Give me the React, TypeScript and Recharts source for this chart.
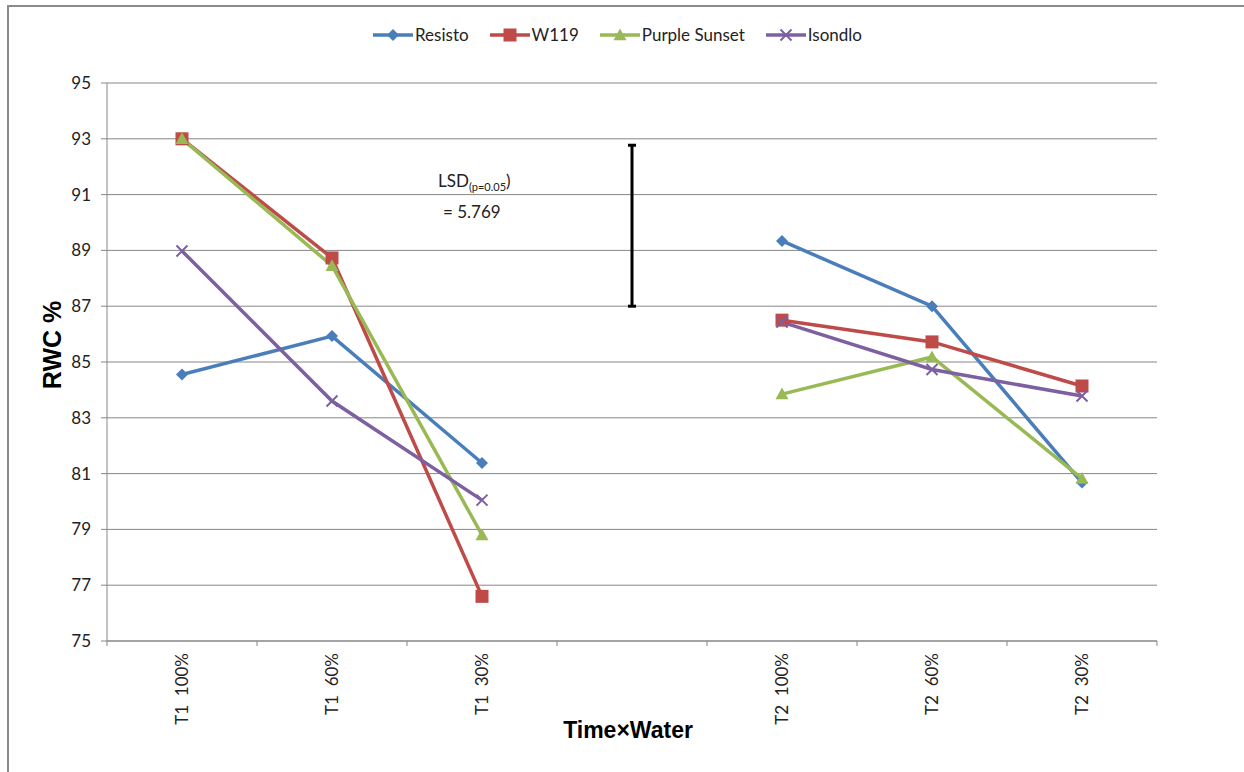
import React from "react";
import { LineChart, Line, XAxis, YAxis, CartesianGrid, ErrorBar } from "recharts";

const categories = ["T1  100%", "T1  60%", "T1  30%", "", "T2  100%", "T2  60%", "T2  30%"];

const resisto = [84.55, 85.93, 81.38, null, 89.34, 87.0, 80.68];
const w119 = [93.0, 88.73, 76.6, null, 86.5, 85.72, 84.14];
const purpleSunset = [93.0, 88.45, 78.8, null, 83.85, 85.18, 80.82];
const isondlo = [88.98, 83.6, 80.05, null, 86.43, 84.73, 83.78];

const lsdBase = 87;
const lsdValue = 5.769;

const yTicks = [75, 77, 79, 81, 83, 85, 87, 89, 91, 93, 95];

const series = [
  { key: "resisto", name: "Resisto", color: "#4A7EBB", marker: "diamond" },
  { key: "w119", name: "W119", color: "#BE4B48", marker: "square" },
  { key: "purpleSunset", name: "Purple Sunset", color: "#98B954", marker: "triangle" },
  { key: "isondlo", name: "Isondlo", color: "#7D60A0", marker: "cross" },
];

const data = categories.map((cat, i) => ({
  cat,
  resisto: resisto[i],
  w119: w119[i],
  purpleSunset: purpleSunset[i],
  isondlo: isondlo[i],
  lsdMid: cat === "" ? lsdBase + lsdValue / 2 : null,
  lsdErr: cat === "" ? lsdValue / 2 : null,
}));

const WIDTH = 1244;
const HEIGHT = 772;
const MARGIN = { top: 83, right: 87, bottom: 31, left: 47 };
const Y_AXIS_W = 60;
const X_AXIS_H = 100;
const PLOT_W = WIDTH - MARGIN.left - MARGIN.right - Y_AXIS_W;
const AXIS_COLOR = "#878787";
const FONT = "Lato, 'Noto Sans', sans-serif";
const TITLE_FONT = "'Liberation Sans', Arial, sans-serif";

function markerShape(marker: string, cx: number, cy: number, color: string) {
  if (marker === "diamond") {
    const r = 6;
    return <path d={`M${cx},${cy - r}L${cx + r},${cy}L${cx},${cy + r}L${cx - r},${cy}Z`} fill={color} />;
  }
  if (marker === "square") {
    const r = 6.5;
    return <rect x={cx - r} y={cy - r} width={r * 2} height={r * 2} fill={color} />;
  }
  if (marker === "triangle") {
    const r = 6.5;
    return <path d={`M${cx},${cy - r}L${cx + r},${cy + r * 0.8}L${cx - r},${cy + r * 0.8}Z`} fill={color} />;
  }
  const r = 5.5;
  return (
    <path
      d={`M${cx - r},${cy - r}L${cx + r},${cy + r}M${cx - r},${cy + r}L${cx + r},${cy - r}`}
      stroke={color}
      strokeWidth={2}
    />
  );
}

function makeDot(marker: string, color: string) {
  return (props: any) => {
    const { cx, cy, index, value } = props;
    if (cx == null || cy == null || value == null) return <g key={`d-${index}`} />;
    return <g key={`d-${index}`}>{markerShape(marker, cx, cy, color)}</g>;
  };
}

function XTick({ x, y, payload, index }: any) {
  const axisY = y - 12;
  const half = PLOT_W / categories.length / 2;
  return (
    <g>
      <line x1={x - half} y1={axisY} x2={x - half} y2={axisY + 5} stroke={AXIS_COLOR} />
      {index === categories.length - 1 && (
        <line x1={x + half} y1={axisY} x2={x + half} y2={axisY + 5} stroke={AXIS_COLOR} />
      )}
      {payload.value ? (
        <text
          x={x}
          y={y}
          dy="0.35em"
          transform={`rotate(-90 ${x} ${y})`}
          textAnchor="end"
          fontSize={17}
          fontFamily={FONT}
          fill="#222"
          style={{ whiteSpace: "pre" }}
        >
          {payload.value}
        </text>
      ) : null}
    </g>
  );
}

function Legend() {
  return (
    <div
      style={{
        position: "absolute",
        top: 24,
        left: 373,
        display: "flex",
        alignItems: "center",
        fontFamily: FONT,
        fontSize: 17,
        color: "#222",
      }}
    >
      {series.map((s) => (
        <div key={s.key} style={{ display: "flex", alignItems: "center", marginRight: 21 }}>
          <svg width={40} height={20}>
            <line x1={0} y1={10} x2={40} y2={10} stroke={s.color} strokeWidth={3.5} />
            {markerShape(s.marker, 20, 10, s.color)}
          </svg>
          <span style={{ marginLeft: 2 }}>{s.name}</span>
        </div>
      ))}
    </div>
  );
}

export default function App() {
  return (
    <div style={{ position: "absolute", left: 0, top: 0, width: WIDTH, height: HEIGHT, background: "#fff" }}>
      <div
        style={{
          position: "absolute",
          left: 7,
          top: 5,
          width: WIDTH - 7,
          height: HEIGHT - 5,
          borderTop: "2px solid #8a8a8a",
          borderLeft: "2px solid #8a8a8a",
          boxSizing: "border-box",
        }}
      />
      <LineChart width={WIDTH} height={HEIGHT} data={data} margin={MARGIN}>
        <CartesianGrid vertical={false} stroke={AXIS_COLOR} />
        <XAxis
          dataKey="cat"
          scale="band"
          height={X_AXIS_H}
          interval={0}
          tickLine={false}
          tickSize={6}
          tickMargin={6}
          tick={<XTick />}
          stroke={AXIS_COLOR}
          label={{
            content: ({ viewBox }: any) => (
              <text
                x={viewBox.x + viewBox.width / 2 - 4}
                y={viewBox.y + 97}
                textAnchor="middle"
                fontSize={23}
                fontWeight="bold"
                fontFamily={TITLE_FONT}
                fill="#000"
              >
                Time×Water
              </text>
            ),
          }}
        />
        <YAxis
          width={Y_AXIS_W}
          domain={[75, 95]}
          ticks={yTicks}
          interval={0}
          stroke={AXIS_COLOR}
          tickSize={6}
          tickMargin={10}
          tick={{ fontSize: 17, fontFamily: FONT, fill: "#222" }}
          label={{
            content: ({ viewBox }: any) => {
              const cx = viewBox.x + 5;
              const cy = viewBox.y + viewBox.height / 2 - 17;
              return (
                <text
                  x={cx}
                  y={cy}
                  dy="0.35em"
                  transform={`rotate(-90 ${cx} ${cy})`}
                  textAnchor="middle"
                  fontSize={25}
                  fontWeight="bold"
                  fontFamily={TITLE_FONT}
                  fill="#000"
                >
                  RWC %
                </text>
              );
            },
          }}
        />
        {series.map((s) => (
          <Line
            key={s.key}
            dataKey={s.key}
            name={s.name}
            stroke={s.color}
            strokeWidth={3.5}
            dot={makeDot(s.marker, s.color)}
            activeDot={false}
            connectNulls={false}
            isAnimationActive={false}
          />
        ))}
        <Line
          dataKey="lsdMid"
          stroke="none"
          dot={false}
          activeDot={false}
          legendType="none"
          isAnimationActive={false}
        >
          <ErrorBar dataKey="lsdErr" direction="y" width={4} stroke="#000" strokeWidth={3} isAnimationActive={false} />
        </Line>
      </LineChart>
      <Legend />
      <div
        style={{
          position: "absolute",
          left: 438,
          top: 168,
          fontFamily: FONT,
          fontSize: 17,
          color: "#222",
          lineHeight: "25px",
        }}
      >
        <div>
          LSD<sub style={{ fontSize: 11 }}>(p=0.05</sub>)
        </div>
        <div style={{ paddingLeft: 5 }}>= 5.769</div>
      </div>
    </div>
  );
}
